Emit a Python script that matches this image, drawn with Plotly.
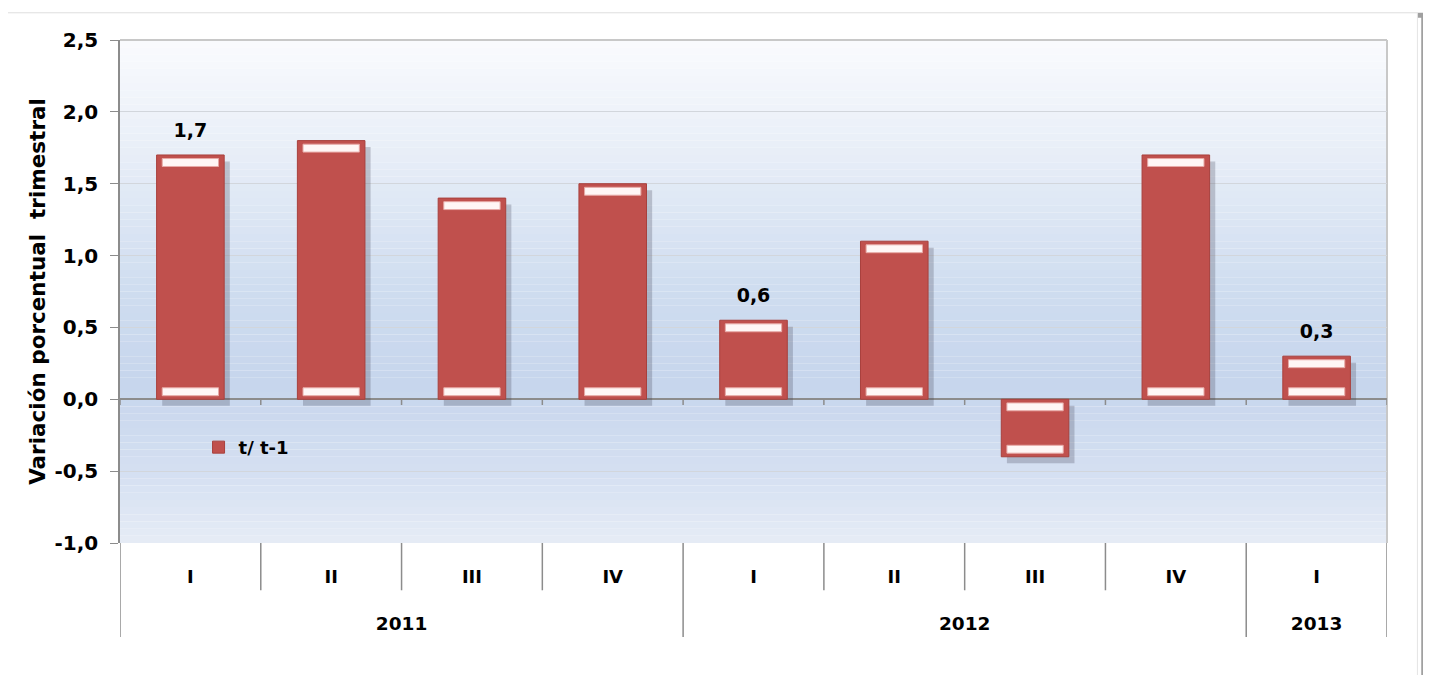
import plotly.graph_objects as go

years = ["2011", "2011", "2011", "2011", "2012", "2012", "2012", "2012", "2013"]
quarters = ["I", "II", "III", "IV", "I", "II", "III", "IV", "I"]
values = [1.7, 1.8, 1.4, 1.5, 0.55, 1.1, -0.4, 1.7, 0.3]
labels = ["1,7", "", "", "", "0,6", "", "", "", "0,3"]
series_name = "t/ t-1"
y_ticks = [2.5, 2.0, 1.5, 1.0, 0.5, 0.0, -0.5, -1.0]
y_ticktext = ["2,5", "2,0", "1,5", "1,0", "0,5", "0,0", "-0,5", "-1,0"]

FONT = "DejaVu Sans, Liberation Sans, Arial, sans-serif"
BAR = "#c0504d"
n = len(values)
cats = [y + "-" + q for y, q in zip(years, quarters)]

# group centres for year labels
groups = []
for i, yv in enumerate(years):
    if not groups or groups[-1][0] != yv:
        groups.append([yv, i, i])
    else:
        groups[-1][2] = i
group_pos = [(a + b) / 2 for _, a, b in groups]
group_txt = [g[0] for g in groups]

fig = go.Figure()

shapes = []
# outer frame with shadow (drawn first)
shapes.append(dict(type="rect", xref="paper", yref="paper", x0=-0.087, x1=1.029, y0=-0.3, y1=1.049,
                   fillcolor="rgba(0,0,0,0)", line=dict(color="#a0a0a0", width=5), layer="below"))
shapes.append(dict(type="rect", xref="paper", yref="paper", x0=-0.091, x1=1.024, y0=-0.3, y1=1.054,
                   fillcolor="white", line=dict(color="#e4e4e4", width=1), layer="below"))

# background gradient bands (decorative)
stops = [(2.5, (250, 251, 254)), (1.75, (233, 239, 248)), (0.75, (207, 221, 240)),
         (0.1, (199, 214, 237)), (-0.5, (213, 224, 242)), (-1.0, (230, 236, 246))]
steps = 70
for i in range(steps):
    y0 = 2.5 - 3.5 * i / steps
    y1 = 2.5 - 3.5 * (i + 1) / steps
    ym = (y0 + y1) / 2
    c = stops[-1][1]
    for j in range(len(stops) - 1):
        a, ca = stops[j]
        b, cb = stops[j + 1]
        if b <= ym <= a:
            t = (a - ym) / (a - b)
            c = tuple(int(ca[k] + (cb[k] - ca[k]) * t) for k in range(3))
            break
    shapes.append(dict(type="rect", xref="paper", yref="y", x0=0, x1=1, y0=y1, y1=y0,
                       fillcolor="rgb(%d,%d,%d)" % c, line=dict(width=0), layer="below"))

# category boundary ticks & group dividers
for i in range(n + 1):
    xb = i - 0.5
    group_edge = i == 0 or i == n or years[i] != years[i - 1]
    shapes.append(dict(type="line", xref="x", yref="paper", x0=xb, x1=xb, y0=0,
                       y1=-0.187 if group_edge else -0.094,
                       line=dict(color="#8c8c8c", width=1.5)))
    shapes.append(dict(type="line", xref="x", yref="y", x0=xb, x1=xb, y0=0, y1=-0.04,
                       line=dict(color="#8c8c8c", width=1.5)))

h = 0.055
g = 0.025
# shadow
fig.add_trace(go.Bar(x=cats, y=values, base=[-0.045] * n,
                     width=0.48, offset=-0.20, marker=dict(color="rgba(60,60,80,0.25)", line=dict(width=0)),
                     showlegend=False, hoverinfo="skip"))
# main bars
fig.add_trace(go.Bar(x=cats, y=values, width=0.48, offset=-0.24, name=series_name,
                     marker=dict(color=BAR, line=dict(color="#a8403d", width=1)),
                     hoverinfo="x+y"))
# bevel highlights
top_base = [v - g - h if v > 0 else v + g for v in values]
bot_base = [g if v > 0 else -g - h for v in values]
for bases in (top_base, bot_base):
    fig.add_trace(go.Bar(x=cats, y=[h] * n, base=bases, width=0.40, offset=-0.20,
                         marker=dict(color="#fff6f5", line=dict(color="#e7a9a6", width=1)),
                         showlegend=False, hoverinfo="skip"))

# value labels
fig.add_trace(go.Scatter(x=cats, y=values, mode="markers+text", text=labels,
                         textposition="top center", cliponaxis=False,
                         marker=dict(size=20, opacity=0),
                         textfont=dict(family=FONT, size=19, color="black", weight="bold"),
                         showlegend=False, hoverinfo="skip"))

# invisible trace for the year axis
fig.add_trace(go.Scatter(x=group_pos, y=[0] * len(group_pos), xaxis="x2", mode="markers",
                         marker=dict(opacity=0), showlegend=False, hoverinfo="skip"))

fig.update_layout(
    width=1431, height=675,
    margin=dict(l=112, r=52, t=32, b=140),
    paper_bgcolor="white", plot_bgcolor="rgba(0,0,0,0)",
    barmode="overlay",
    font=dict(family=FONT, size=18, color="black", weight="bold"),
    shapes=shapes,
    showlegend=True,
    legend=dict(x=0.062, y=0.19, xanchor="left", yanchor="middle", bgcolor="rgba(0,0,0,0)",
                font=dict(family=FONT, size=18, color="black", weight="bold"), itemwidth=30),
    xaxis=dict(type="category", range=[-0.5, n - 0.5], tickvals=cats, ticktext=quarters,
               ticks="", showgrid=False, showline=False, zeroline=False,
               ticklabelstandoff=21,
               tickfont=dict(family=FONT, size=18, color="black", weight="bold")),
    xaxis2=dict(overlaying="x", anchor="y", side="bottom", range=[-0.5, n - 0.5],
                tickvals=group_pos, ticktext=group_txt, ticks="", showgrid=False,
                showline=False, zeroline=False, ticklabelstandoff=67,
                tickfont=dict(family=FONT, size=18.5, color="black", weight="bold")),
)
fig.update_yaxes(range=[-1.0, 2.5], tickvals=y_ticks, ticktext=y_ticktext,
                 showgrid=True, gridcolor="#d2d6dc", gridwidth=1,
                 zeroline=True, zerolinecolor="#8c8c8c", zerolinewidth=2,
                 showline=True, linecolor="#8c8c8c", linewidth=1.5, mirror=False,
                 ticks="outside", ticklen=8, tickcolor="#8c8c8c", ticklabelstandoff=8,
                 tickfont=dict(family=FONT, size=20, color="black", weight="bold"),
                 title=dict(text="Variación porcentual  trimestral", standoff=3,
                            font=dict(family=FONT, size=21.5, color="black", weight="bold")))
fig.add_shape(type="line", xref="paper", yref="paper", x0=0, x1=1, y0=1, y1=1,
              line=dict(color="#c8c8c8", width=2), layer="below")
fig.add_shape(type="line", xref="paper", yref="paper", x0=1, x1=1, y0=0, y1=1,
              line=dict(color="#c8c8c8", width=2), layer="below")

fig.write_html("out.html")
